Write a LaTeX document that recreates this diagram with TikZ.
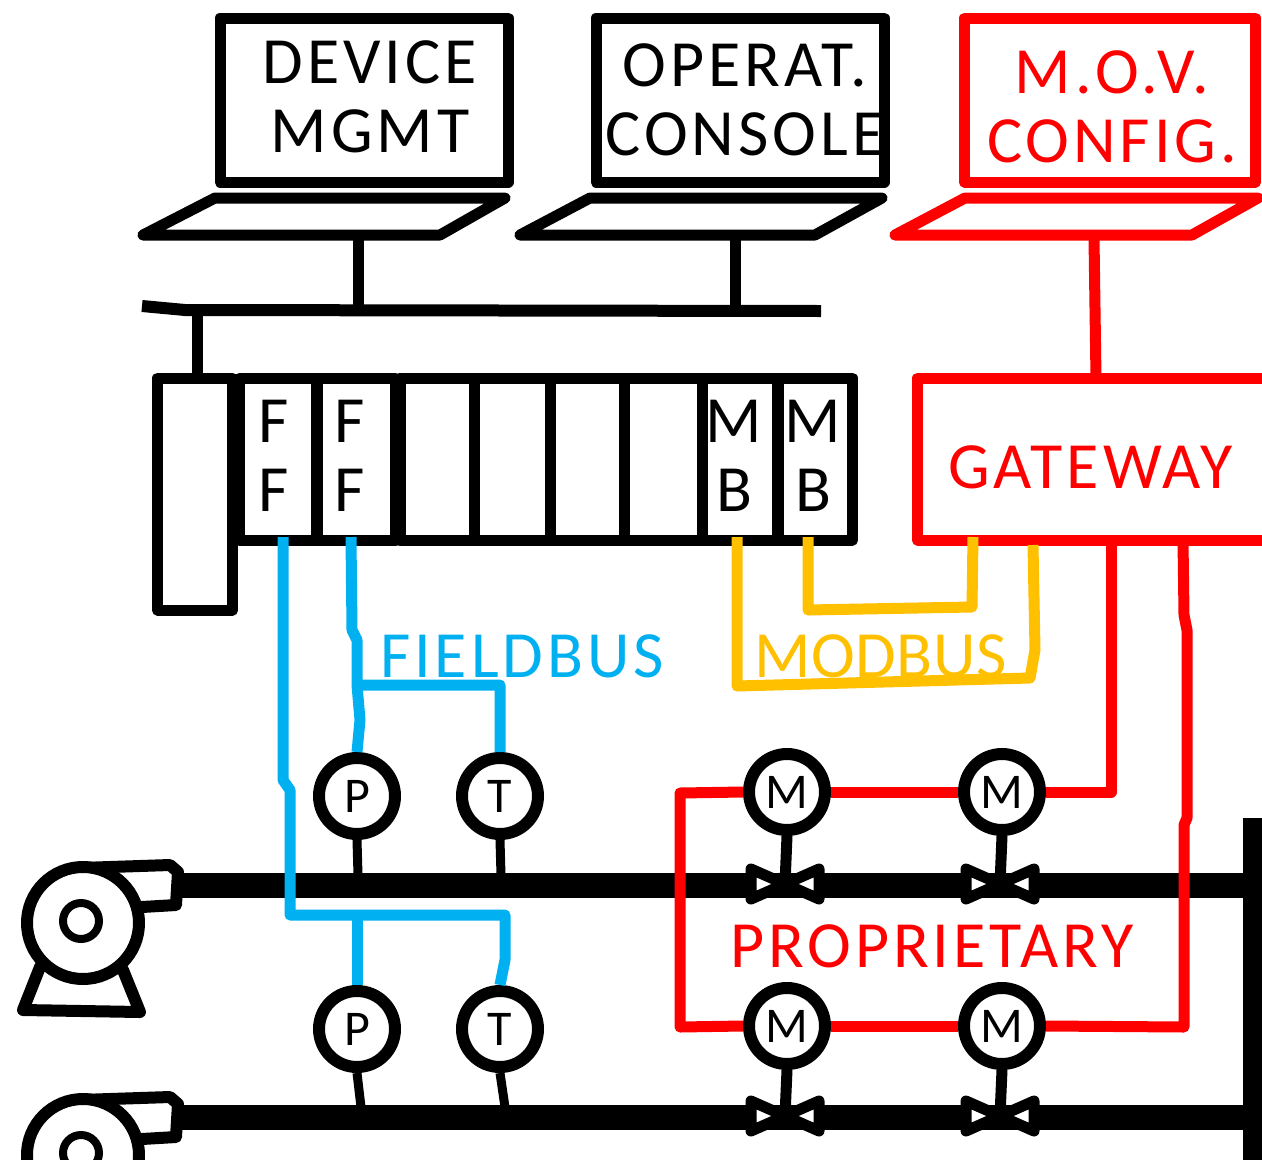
\documentclass[tikz,border=0pt]{standalone}
\usepackage{fontspec}
\setmainfont[LetterSpace=6]{Carlito}
\newfontfamily\modfont[LetterSpace=1]{Carlito}
\usetikzlibrary{positioning}
\definecolor{fbblue}{HTML}{00B0F0}
\definecolor{mbgold}{HTML}{FFC000}
\newcommand{\bigfont}{\fontsize{66}{69}\selectfont}
\newcommand{\smallfont}{\fontsize{50}{55}\selectfont}
\tikzset{
  heavy/.style={line width=11pt, line join=round, line cap=round},
  screenbox/.style={draw, heavy, inner sep=0pt, minimum width=288pt, minimum height=164pt},
  slotbox/.style={draw, line width=11pt, line join=round, inner sep=0pt, minimum height=162pt},
  instr/.style={draw, circle, fill=white, line width=12pt, inner sep=0pt, minimum size=76pt, font=\smallfont},
  biglabel/.style={align=center, font=\bigfont, inner sep=0pt},
  pipe/.style={line width=25pt},
  pumpline/.style={line width=12pt, line join=round, line cap=round},
  fieldwire/.style={line width=11pt, line join=round, color=fbblue},
  modwire/.style={line width=11pt, line join=round, color=mbgold},
  redwire/.style={line width=11pt, line join=round, color=red},
}

\begin{document}
\begin{tikzpicture}[x=1pt, y=-1pt]
\clip (0,0) rectangle (1262,1160);
\fill[white] (0,0) rectangle (1262,1160);

% laptops
\node[screenbox] (devscr) at (364,100) {};
\node[screenbox] (opscr) at (740,100) {};
\node[screenbox, red, minimum width=291pt] (movscr) at (1110,100) {};
\node[biglabel] at (370,97) {DEVICE\\MGMT};
\node[biglabel] at (745,100) {OPERAT.\\CONSOLE};
\node[biglabel, red] at (1112,107) {M.O.V.\\CONFIG.};
\draw[heavy] (143,235) -- (215,198) -- (505,198) -- (440,235) -- cycle;
\draw[heavy] (520,235) -- (590,198) -- (882,198) -- (815,235) -- cycle;
\draw[heavy, red] (895,235) -- (965,198) -- (1258,198) -- (1192,235) -- cycle;
\coordinate (devbase) at (358,238);
\coordinate (opbase) at (735,238);
\coordinate (movbase) at (1094,238);

% network bus
\coordinate (busl) at (142,306);
\coordinate (busr) at (821,311);
\draw[line width=12pt] (busl) -- (185,310) -- (busr);
\draw[line width=11pt] (devbase) -- (358,308);
\draw[line width=11pt] (opbase) -- (735,308);

% controller rack
\node[slotbox, minimum width=75pt, minimum height=232pt] (cpu) at (195,494) {};
\node[slotbox, minimum width=77pt] (ffa) at (278,459) {};
\node[slotbox, minimum width=78pt] (ffb) at (356,459) {};
\node[slotbox, minimum width=74pt] (sa) at (437,459) {};
\node[slotbox, minimum width=76pt] (sb) at (512,459) {};
\node[slotbox, minimum width=74pt] (sc) at (587,459) {};
\node[slotbox, minimum width=78pt] (sd) at (663,459) {};
\node[slotbox, minimum width=76pt] (mba) at (740,459) {};
\node[slotbox, minimum width=75pt] (mbb) at (815,459) {};
\node[biglabel] at (274,456) {F\\F};
\node[biglabel] at (350,456) {F\\F};
\node[biglabel] at (734,456) {M\\B};
\node[biglabel] at (813,456) {M\\B};
\draw[line width=11pt] (197,310) -- (cpu.north -| 197,378);
\node[slotbox, red, minimum width=350pt, anchor=west] (gate) at (912,459) {};
\node[biglabel, red, anchor=west] at (948,467) {GATEWAY};
\draw[redwire] (movbase) -- (1096,378);

% process lines
\coordinate (pipea) at (175,885);
\coordinate (pipeb) at (175,1117);
\draw[pipe] (pipea) -- (1245,885);
\draw[pipe] (pipeb) -- (1245,1117);
\draw[line width=19pt] (1252.5,818) -- (1252.5,1170);

% pumps
\foreach \off/\nm in {0/pa,232/pb} {
  \begin{scope}[yshift=-\off pt]
  \draw[pumpline] (80,868) -- (170,865) -- (178,872) -- (176,905) -- (142,907);
  \draw[pumpline] (40,967) -- (23,1010) -- (140,1012) -- (123,970);
  \node[draw, circle, fill=white, line width=12pt, inner sep=0pt, minimum size=112pt] (\nm) at (83,923) {};
  \node[draw, circle, line width=8pt, inner sep=0pt, minimum size=36pt] at (81,921) {};
  \end{scope}
}

% instruments
\node[instr] (pta) at (357,796) {P};
\node[instr] (tta) at (500,796) {T};
\node[instr] (ptb) at (357,1029) {P};
\node[instr] (ttb) at (500,1029) {T};
\draw[line width=9pt] (pta.south) -- (358,875);
\draw[line width=9pt] (tta.south) -- (501,875);
\draw[line width=9pt] (ptb.south) -- (361,1107);
\draw[line width=9pt] (ttb.south) -- (505,1107);

% fieldbus
\draw[fieldwire] (283,537) -- (283,780) -- (290,790) -- (290,915) -- (505,915) -- (505,960) -- (ttb.north);
\draw[fieldwire] (357,915) -- (ptb.north);
\draw[fieldwire] (351,537) -- (352,630) -- (357,640) -- (357,685) -- (500,685) -- (500,720) -- (tta.north);
\draw[fieldwire] (357,685) -- (360,720) -- (pta.north);
\node[biglabel, fbblue, anchor=west] at (380,656) {FIELDBUS};

% modbus
\draw[modwire] (737,537) -- (737,686) -- (1030,678) -- (1035,650) -- (1033,545);
\draw[modwire] (808,537) -- (808,610) -- (972,607) -- (973,537);
\node[biglabel, mbgold, anchor=west] at (754,656) {\modfont MODBUS};

% motor valves
\node[instr] (ma) at (787,792) {M};
\node[instr] (mb) at (1002,792) {M};
\node[instr] (mc) at (787,1026) {M};
\node[instr] (md) at (1002,1026) {M};
\foreach \mot/\xx/\yy in {ma/785/884,mb/1000/884,mc/785/1116,md/1000/1116} {
  \coordinate (\mot v) at (\xx,\yy);
  \draw[line width=11pt, line join=round, line cap=round, fill=white] (\xx-34,\yy-15) -- (\xx+34,\yy+15) -- (\xx+34,\yy-15) -- (\xx-34,\yy+15) -- cycle;
  \draw[line width=11pt] (\mot.south) -- (\mot v);
}

% proprietary loop
\draw[redwire] (gate.south -| 1111,540) -- (1111,792) -- (mb.east);
\draw[redwire] (mb.west) -- (mb.west -| ma.east);
\draw[redwire] (ma.west) -- (680,793) -- (680,1027) -- (mc.west);
\draw[redwire] (mc.east) -- (md.west);
\draw[redwire] (md.east) -- (1184,1027) -- (1184,825) -- (1187,818) -- (1187,630) -- (1184,615) -- (1183,540);
\node[biglabel, red, anchor=west] at (730,946) {PROPRIETARY};
\end{tikzpicture}
\end{document}
